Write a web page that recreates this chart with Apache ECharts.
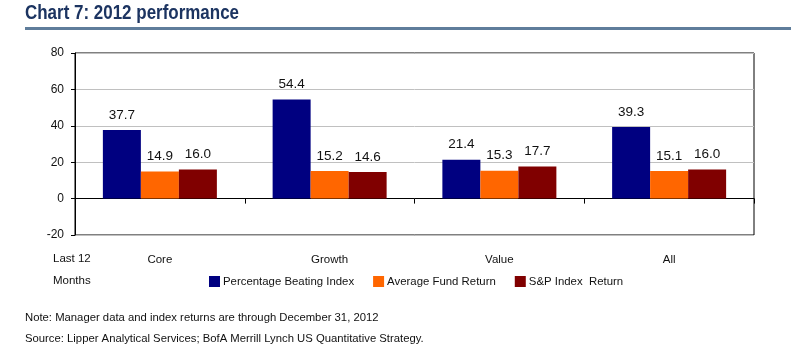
<!DOCTYPE html>
<html><head><meta charset="utf-8">
<script src="https://cdn.jsdelivr.net/npm/echarts@6/dist/echarts.min.js"></script>
<style>html,body{margin:0;padding:0;background:#fff}#c{width:791px;height:356px}</style>
</head><body><div id="c"></div>
<script>
const categories = ['Core', 'Growth', 'Value', 'All'];
const pctBeating = [37.7, 54.4, 21.4, 39.3];
const avgFund = [14.9, 15.2, 15.3, 15.1];
const spIndex = [16.0, 14.6, 17.7, 16.0];
const seriesNames = ['Percentage Beating Index', 'Average Fund Return', 'S&P Index  Return'];
const yTicks = {min: -20, max: 80, interval: 20};

const chart = echarts.init(document.getElementById('c'), null, {renderer: 'canvas'});
const F = 'Liberation Sans, Arial, sans-serif';
const lbl = {show: true, position: 'top', distance: 8, fontFamily: F, fontSize: 13.5, color: '#111',
  formatter: p => p.value.toFixed(1)};
function mk(name, data, color) {
  return {name, type: 'bar', data, barWidth: 38, barGap: '0%', itemStyle: {color}, label: lbl};
}
chart.setOption({
  animation: false,
  textStyle: {fontFamily: F},
  grid: {left: 75, right: 37, top: 53, bottom: 121, show: true, borderColor: '#000', borderWidth: 1},
  legend: {left: 209, top: 276, padding: 0, itemWidth: 11, itemHeight: 11, itemGap: 19, icon: 'rect',
    textStyle: {fontFamily: F, fontSize: 11.4, color: '#111', padding: [0, 0, 0, -2]},
    data: seriesNames},
  xAxis: {type: 'category', data: categories,
    axisLine: {onZero: true, lineStyle: {color: '#000', width: 1}},
    axisTick: {show: true, alignWithLabel: false, length: 5, lineStyle: {color: '#000'}},
    axisLabel: {margin: 19, fontFamily: F, fontSize: 11.5, color: '#111'}},
  yAxis: {type: 'value', min: yTicks.min, max: yTicks.max, interval: yTicks.interval,
    axisLine: {show: true, lineStyle: {color: '#000'}},
    axisTick: {show: true, length: 4, lineStyle: {color: '#000'}},
    axisLabel: {fontFamily: F, fontSize: 12, color: '#111', margin: 11},
    splitLine: {lineStyle: {color: '#c0c0c0'}}},
  series: [mk(seriesNames[0], pctBeating, '#000080'), mk(seriesNames[1], avgFund, '#ff6600'), mk(seriesNames[2], spIndex, '#800000')],
  graphic: [
    {type: 'text', x: 25, y: 4, scaleX: 0.87, style: {text: 'Chart 7: 2012 performance', font: 'bold 19.5px "Liberation Sans", Arial, sans-serif', fill: '#1c3461'}},
    {type: 'rect', shape: {x: 25, y: 27, width: 766, height: 3}, style: {fill: '#5f7d9b'}},
    {type: 'text', left: 53, top: 253, style: {text: 'Last 12', font: '11.5px ' + F, fill: '#111'}},
    {type: 'text', left: 53, top: 275, style: {text: 'Months', font: '11.5px ' + F, fill: '#111'}},
    {type: 'text', left: 25, top: 312, style: {text: 'Note: Manager data and index returns are through December 31, 2012', font: '11.3px ' + F, fill: '#111'}},
    {type: 'text', left: 25, top: 333, style: {text: 'Source: Lipper Analytical Services; BofA Merrill Lynch US Quantitative Strategy.', font: '11.3px ' + F, fill: '#111'}}
  ]
});
</script></body></html>
